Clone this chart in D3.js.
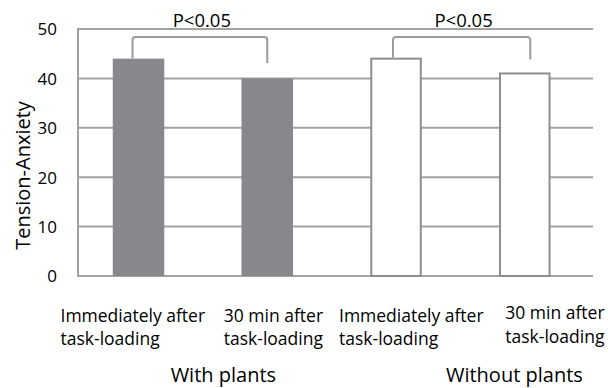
<!DOCTYPE html>
<html>
<head>
<meta charset="utf-8">
<script src="https://cdn.jsdelivr.net/npm/d3@7"></script>
<style>
  html, body { margin: 0; padding: 0; background: #fff; }
  svg { display: block; font-family: "Open Sans", sans-serif; }
</style>
</head>
<body>
<svg id="chart" width="608" height="388"></svg>
<script>
// ---- data ----
const categories = ["wp_imm", "wp_30", "wop_imm", "wop_30"];
const categoryLine1 = ["Immediately after", "30 min after", "Immediately after", "30 min after"];
const categoryLine2 = ["task-loading", "task-loading", "task-loading", "task-loading"];
const values = [44, 40, 44, 41];
const withPlants = [true, true, false, false];
const groupLabels = ["With plants", "Without plants"];
const yTicks = [0, 10, 20, 30, 40, 50];
const yLabel = "Tension-Anxiety";
const sigLabel = "P<0.05";
const comparisons = [[0, 1], [2, 3]];

// ---- layout ----
const svg = d3.select("#chart");
const plotLeft = 78, plotRight = 593, plotTop = 29, plotBottom = 276;

const x = d3.scaleBand().domain(categories).range([plotLeft, plotRight])
  .paddingInner(0.6).paddingOuter(0.3).align(0.45);
const y = d3.scaleLinear().domain([0, 50]).range([plotBottom, plotTop]);

const gridColor = "#a2a2a2";

// gridlines
svg.append("g").selectAll("line").data(yTicks).join("line")
  .attr("x1", plotLeft).attr("x2", plotRight)
  .attr("y1", d => y(d)).attr("y2", d => y(d))
  .attr("stroke", gridColor).attr("stroke-width", 2);

// left axis line
svg.append("line")
  .attr("x1", plotLeft).attr("x2", plotLeft)
  .attr("y1", y(50) - 1).attr("y2", y(0) + 1)
  .attr("stroke", gridColor).attr("stroke-width", 2);

// y tick labels
const yAxis = d3.axisLeft(y).tickValues(yTicks).tickSize(0).tickPadding(0);
const yg = svg.append("g").attr("transform", `translate(${plotLeft - 21},0)`).call(yAxis);
yg.select(".domain").remove();
yg.selectAll("text").attr("font-size", 17).attr("fill", "#000")
  .attr("font-family", "Open Sans").attr("dy", "0.35em");

// y axis title
svg.append("text")
  .attr("transform", `translate(30, ${(y(0) + y(50)) / 2 + 23}) rotate(-90)`)
  .attr("text-anchor", "middle")
  .attr("font-size", 20).attr("fill", "#000")
  .text(yLabel);

// bars
svg.append("g").selectAll("rect").data(values).join("rect")
  .attr("x", (d, i) => x(categories[i]) + (withPlants[i] ? 0 : 1))
  .attr("width", (d, i) => x.bandwidth() - (withPlants[i] ? 0 : 2))
  .attr("y", d => y(d))
  .attr("height", d => y(0) - y(d))
  .attr("fill", (d, i) => withPlants[i] ? "#87888b" : "#ffffff")
  .attr("stroke", (d, i) => withPlants[i] ? "none" : "#8e8e8e")
  .attr("stroke-width", 2);

// significance brackets
const legOffsets = [[-6, 0], [-3, 5.5]];
const legEnds = [[58.5, 63], [57.5, 59.5]];
const bracketTop = 37, r = 3;
comparisons.forEach((c, k) => {
  const x1 = x(categories[c[0]]) + x.bandwidth() / 2 + legOffsets[k][0];
  const x2 = x(categories[c[1]]) + x.bandwidth() / 2 + legOffsets[k][1];
  const p = d3.path();
  p.moveTo(x1, legEnds[k][0]);
  p.lineTo(x1, bracketTop + r);
  p.arcTo(x1, bracketTop, x1 + r, bracketTop, r);
  p.lineTo(x2 - r, bracketTop);
  p.arcTo(x2, bracketTop, x2, bracketTop + r, r);
  p.lineTo(x2, legEnds[k][1]);
  svg.append("path").attr("d", p.toString())
    .attr("fill", "none").attr("stroke", "#9a9a9a").attr("stroke-width", 2);
  svg.append("text")
    .attr("x", (x1 + x2) / 2 + 2).attr("y", 27)
    .attr("text-anchor", "middle")
    .attr("font-size", 18.5).attr("fill", "#000")
    .text(sigLabel);
});

// category labels
const labelLeftOffsets = [-78, -43.5, -57, -19.5];
const labelBaseline = [321.7, 321.7, 321.7, 319];
categories.forEach((c, i) => {
  const cx = x(c) + x.bandwidth() / 2;
  const t = svg.append("text")
    .attr("x", cx + labelLeftOffsets[i]).attr("y", labelBaseline[i])
    .attr("font-size", 17.5).attr("fill", "#000");
  t.append("tspan").attr("x", cx + labelLeftOffsets[i]).text(categoryLine1[i]);
  t.append("tspan").attr("x", cx + labelLeftOffsets[i]).attr("dy", 23.5).text(categoryLine2[i]);
});

// group labels
const groupCenters = [
  (x(categories[0]) + x(categories[1]) + x.bandwidth()) / 2 + 20.5,
  (x(categories[2]) + x(categories[3]) + x.bandwidth()) / 2 + 54
];
groupLabels.forEach((g, i) => {
  svg.append("text")
    .attr("x", groupCenters[i]).attr("y", 381.5)
    .attr("text-anchor", "middle")
    .attr("font-size", 20).attr("fill", "#000")
    .text(g);
});
</script>
</body>
</html>
